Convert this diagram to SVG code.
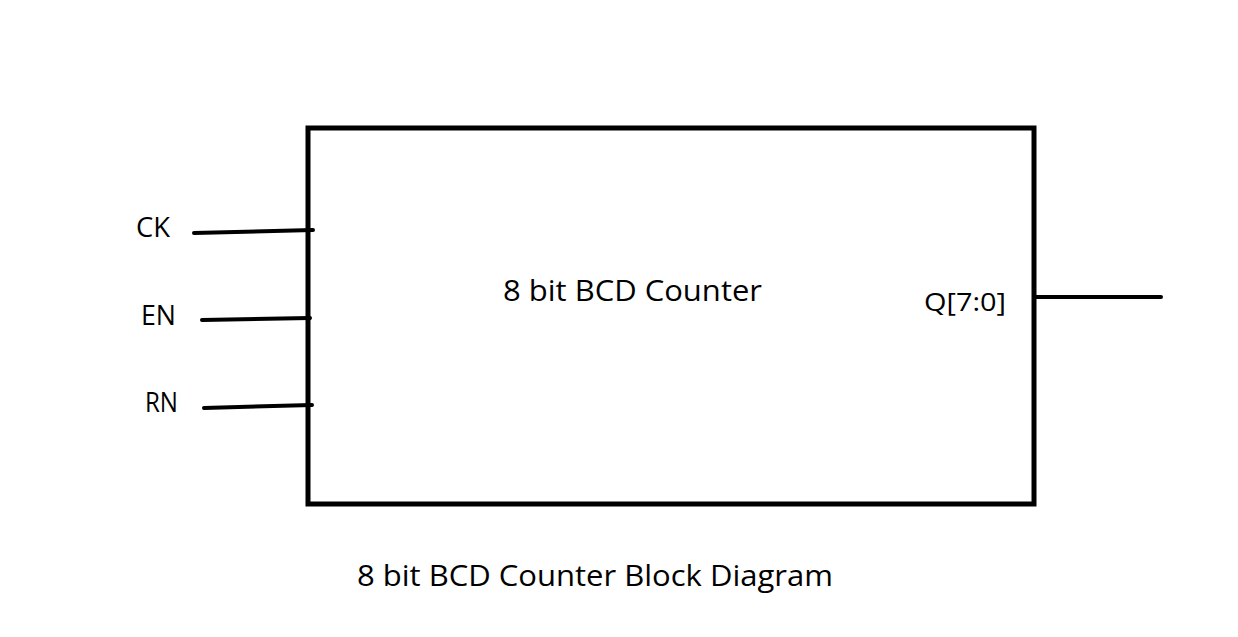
<svg xmlns="http://www.w3.org/2000/svg" width="1238" height="637" viewBox="0 0 1238 637">
<style>
.t{font-family:"Open Sans","Noto Sans","Liberation Sans",sans-serif;fill:#000}
.w{stroke:#000;stroke-width:4;stroke-linecap:round;fill:none}
.box{stroke:#000;stroke-width:5;fill:#fff}
</style>
<rect width="1238" height="637" fill="#fff"/>
<g id="counter">
<rect class="box" x="308" y="128" width="726" height="376"/>
<text class="t" x="503" y="301" font-size="29" textLength="259" lengthAdjust="spacingAndGlyphs">8 bit BCD Counter</text>
<text class="t" x="924" y="311" font-size="26" textLength="82" lengthAdjust="spacingAndGlyphs">Q[7:0]</text>
</g>
<g id="label-ck"><text class="t" x="136" y="237" font-size="27" textLength="34" lengthAdjust="spacingAndGlyphs">CK</text></g>
<g id="label-en"><text class="t" x="141" y="325" font-size="27" textLength="35" lengthAdjust="spacingAndGlyphs">EN</text></g>
<g id="label-rn"><text class="t" x="145" y="412" font-size="27" textLength="33" lengthAdjust="spacingAndGlyphs">RN</text></g>
<g id="connectors">
<path class="w" d="M194 233 L313 230"/>
<path class="w" d="M202 320 L310 318"/>
<path class="w" d="M204 408 L312 405"/>
<path class="w" d="M1036 297 L1161 297"/>
</g>
<g id="caption"><text class="t" x="357" y="586" font-size="29" textLength="476" lengthAdjust="spacingAndGlyphs">8 bit BCD Counter Block Diagram</text></g>
</svg>
